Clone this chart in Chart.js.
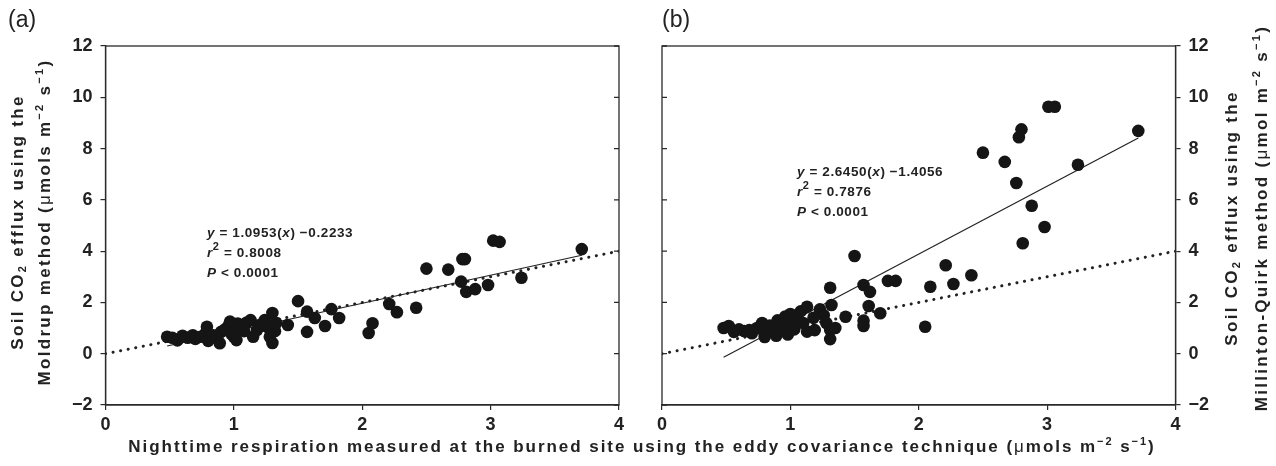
<!DOCTYPE html>
<html><head><meta charset="utf-8">
<script src="https://cdn.jsdelivr.net/npm/chart.js@4/dist/chart.umd.min.js"></script>
<style>
html,body{margin:0;padding:0;background:#fff;}
#wrap{position:relative;width:1276px;height:466px;overflow:hidden;font-family:"Liberation Sans",Arial,sans-serif;color:#222;}
.pan{position:absolute;top:0;height:466px;}
.txt{position:absolute;white-space:nowrap;}
.panel{font-size:23px;}
.eq{font-size:13.5px;font-weight:bold;line-height:20px;letter-spacing:0.6px;}
.eq i{font-style:italic;}
.ytitle{font-size:17px;font-weight:bold;letter-spacing:2.3px;text-align:center;width:440px;transform:rotate(-90deg);transform-origin:50% 50%;}
.xtitle{font-size:17px;font-weight:bold;letter-spacing:1.95px;line-height:20px;}
.u{font-weight:normal;}
sup{font-size:11px;line-height:0;vertical-align:7px;}
sub{font-size:11px;line-height:0;vertical-align:-3px;}
</style></head>
<body>
<div id="wrap">
  <div class="pan" style="left:0;width:640px;"><canvas id="ca" width="640" height="466"></canvas></div>
  <div class="pan" style="left:640px;width:636px;"><canvas id="cb" width="636" height="466"></canvas></div>
  <div class="txt panel" style="left:8px;top:6px;">(a)</div>
  <div class="txt panel" style="left:662px;top:6px;">(b)</div>
  <div class="txt eq" style="left:207px;top:223px;"><i>y</i> = 1.0953(<i>x</i>) −0.2233<br><i>r</i><sup>2</sup> = 0.8008<br><i>P</i> &lt; 0.0001</div>
  <div class="txt eq" style="left:797px;top:162px;"><i>y</i> = 2.6450(<i>x</i>) −1.4056<br><i>r</i><sup>2</sup> = 0.7876<br><i>P</i> &lt; 0.0001</div>
  <div class="txt ytitle" style="left:-189px;top:195px;line-height:27px;">Soil CO<sub>2</sub> efflux using the<br>Moldrup method (<span class="u">μ</span>mols m<sup>−2</sup> s<sup>−1</sup>)</div>
  <div class="txt ytitle" style="left:1027px;top:188px;line-height:30px;">Soil CO<sub>2</sub> efflux using the<br>Millinton-Quirk method (<span class="u">μ</span>mol m<sup>−2</sup> s<sup>−1</sup>)</div>
  <div class="txt xtitle" style="left:4px;width:1276px;text-align:center;top:437px;">Nighttime respiration measured at the burned site using the eddy covariance technique (<span class="u">μ</span>mols m<sup>−2</sup> s<sup>−1</sup>)</div>
</div>
<script>
// ---- data ----
const xTicks = [0, 1, 2, 3, 4];
const yTicks = [-2, 0, 2, 4, 6, 8, 10, 12];

const moldrupX = [0.48,0.52,0.56,0.60,0.64,0.68,0.70,0.74,0.78,0.79,0.80,0.84,0.87,0.89,0.90,0.93,0.96,0.97,0.98,1.00,1.02,1.03,1.05,1.08,1.10,1.13,1.15,1.18,1.20,1.24,1.26,1.28,1.30,1.30,1.32,1.33,1.42,1.50,1.57,1.57,1.63,1.71,1.76,1.82,2.05,2.08,2.21,2.27,2.42,2.50,2.67,2.78,2.80,2.77,2.81,2.88,2.98,3.02,3.07,3.24,3.71];
const moldrupY = [0.66,0.62,0.52,0.70,0.62,0.72,0.58,0.66,0.80,1.05,0.50,0.72,0.60,0.41,0.85,0.95,1.10,1.25,0.78,0.66,0.53,1.18,1.00,0.88,1.22,1.31,0.66,0.92,1.12,1.31,1.05,0.66,1.59,0.42,0.88,1.20,1.12,2.05,1.64,0.85,1.39,1.08,1.74,1.39,0.81,1.19,1.94,1.62,1.79,3.32,3.28,3.69,3.69,2.81,2.41,2.52,2.68,4.41,4.36,2.96,4.08];

const mqX = [0.48,0.52,0.56,0.60,0.64,0.68,0.70,0.74,0.78,0.79,0.80,0.84,0.87,0.89,0.90,0.93,0.96,0.97,0.98,1.00,1.02,1.03,1.05,1.08,1.10,1.13,1.13,1.18,1.19,1.23,1.26,1.28,1.31,1.31,1.31,1.32,1.35,1.43,1.50,1.57,1.57,1.57,1.61,1.62,1.70,1.76,1.82,2.05,2.09,2.21,2.27,2.41,2.50,2.67,2.76,2.78,2.80,2.81,2.88,2.98,3.01,3.06,3.24,3.71];
const mqY = [1.00,1.08,0.85,0.95,0.88,0.92,0.80,1.00,1.20,0.90,0.65,1.10,0.95,0.70,1.30,1.00,1.45,1.10,0.75,1.55,1.30,0.95,1.50,1.65,1.20,1.83,0.86,1.40,0.92,1.73,1.50,1.20,2.57,0.92,0.57,1.90,1.00,1.44,3.81,2.68,1.29,1.08,1.86,2.41,1.58,2.84,2.84,1.05,2.61,3.45,2.72,3.06,7.84,7.48,6.66,8.44,8.75,4.31,5.77,4.94,9.63,9.63,7.37,8.69];

// fitted-line endpoints and 1:1 line endpoints
const fitAX = [0.48, 3.71], fitAY = [0.30, 3.84];
const fitBX = [0.48, 3.71], fitBY = [-0.14, 8.41];
const oneX = [0, 4], oneY = [0, 4];

const pts = (xs, ys) => xs.map((x, i) => ({x: x, y: ys[i]}));

// ---- drawing helpers ----
const INK = '#2a2a2a';
const FONT = {family: '"Liberation Sans", Arial, sans-serif', size: 18, weight: 'bold'};
const minus = v => String(v).replace('-', '\u2212');

const framePlugin = {
  id: 'frame',
  afterDatasetsDraw(chart, args, opts) {
    const {ctx, chartArea: a, scales} = chart;
    ctx.save();
    ctx.strokeStyle = INK;
    ctx.lineWidth = 1.3;
    ctx.strokeRect(a.left, a.top, a.right - a.left, a.bottom - a.top);
    const ys = scales.y;
    ctx.beginPath();
    yTicks.forEach(v => {
      const py = ys.getPixelForValue(v);
      if (opts.side === 'right') { ctx.moveTo(a.right, py); ctx.lineTo(a.right - 5, py); }
      else { ctx.moveTo(a.left, py); ctx.lineTo(a.left + 5, py); }
    });
    ctx.stroke();
    ctx.restore();
  }
};

function makeChart(id, xs, ys, fx, fy, yPos, padLeft, padRight, yWidth) {
  return new Chart(document.getElementById(id), {
    type: 'scatter',
    data: {
      datasets: [
        {type: 'line', data: pts(oneX, oneY), borderColor: '#222', borderWidth: 3, borderDash: [0.1, 7.6], borderCapStyle: 'round', pointRadius: 0, fill: false, order: 3},
        {type: 'line', data: pts(fx, fy), borderColor: '#222', borderWidth: 1.2, pointRadius: 0, fill: false, order: 2},
        {data: pts(xs, ys), pointRadius: 6.3, backgroundColor: '#151515', borderWidth: 0, pointHoverRadius: 6.3, order: 1}
      ]
    },
    options: {
      responsive: false, animation: false, devicePixelRatio: 1,
      layout: {padding: {top: 46, left: padLeft, right: padRight, bottom: 0}},
      plugins: {legend: {display: false}, tooltip: {enabled: false}, frame: {side: yPos === 'left' ? 'right' : 'left'}},
      scales: {
        x: {
          type: 'linear', min: 0, max: 4,
          afterBuildTicks: s => { s.ticks = xTicks.map(v => ({value: v})); },
          afterFit: s => { s.height = 61; },
          grid: {drawOnChartArea: false, drawTicks: true, tickLength: 5, color: INK, lineWidth: 1.2},
          border: {display: true, color: INK, width: 1.3},
          ticks: {font: FONT, color: '#222', padding: 4, maxRotation: 0, callback: v => minus(v)}
        },
        y: {
          type: 'linear', position: yPos, min: -2, max: 12,
          afterBuildTicks: s => { s.ticks = yTicks.map(v => ({value: v})); },
          afterFit: s => { s.width = yWidth; },
          grid: {drawOnChartArea: false, drawTicks: true, tickLength: 5, color: INK, lineWidth: 1.2},
          border: {display: true, color: INK, width: 1.3},
          ticks: {font: FONT, color: '#222', padding: 8, callback: v => minus(v)}
        }
      }
    },
    plugins: [framePlugin]
  });
}

makeChart('ca', moldrupX, moldrupY, fitAX, fitAY, 'left', 0, 21, 105.5);
makeChart('cb', mqX, mqY, fitBX, fitBY, 'right', 22, 0, 100.5);
</script>
</body></html>
